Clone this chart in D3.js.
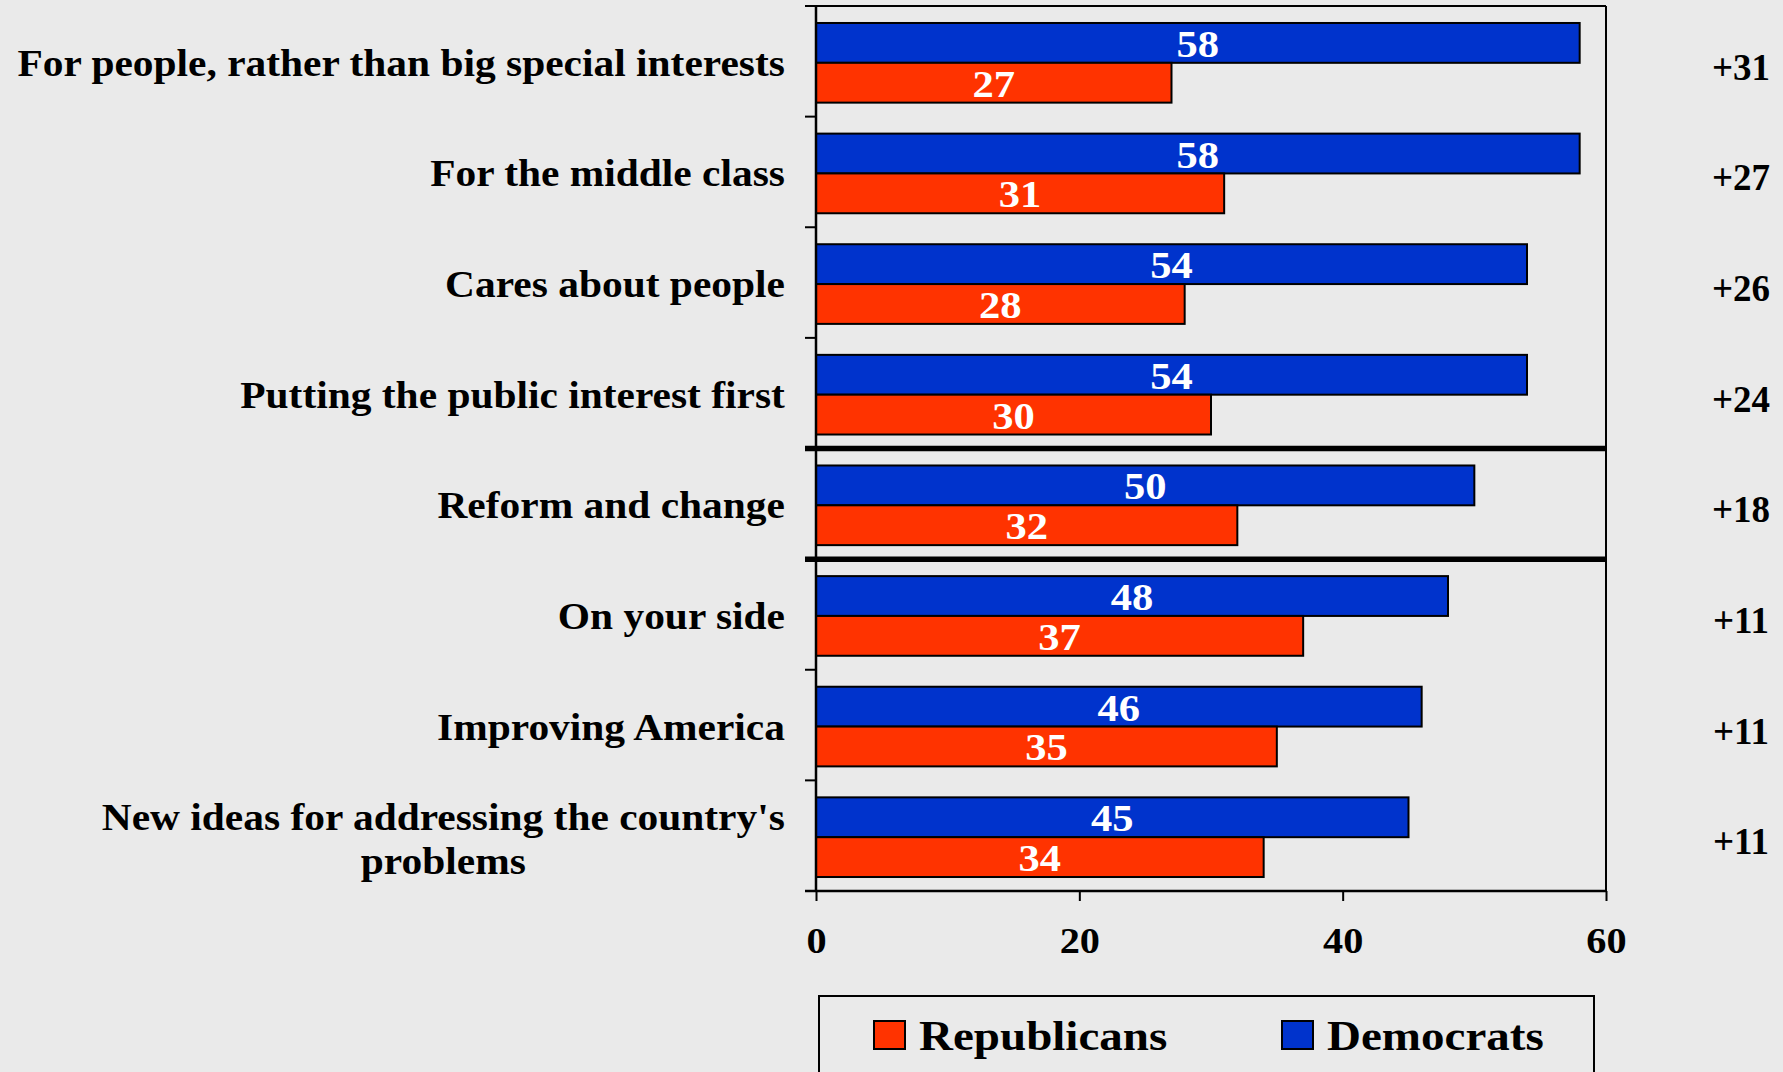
<!DOCTYPE html>
<html>
<head>
<meta charset="utf-8">
<script src="https://cdn.jsdelivr.net/npm/d3@7"></script>
<style>
  html, body { margin: 0; padding: 0; background: #EAEAEA; }
  svg { display: block; }
  text { font-family: "Liberation Serif", "Times New Roman", serif; font-weight: bold; }
</style>
</head>
<body>
<script>
const categories = [
  "For people, rather than big special interests",
  "For the middle class",
  "Cares about people",
  "Putting the public interest first",
  "Reform and change",
  "On your side",
  "Improving America",
  "New ideas for addressing the country's problems"
];
const democrats   = [58, 58, 54, 54, 50, 48, 46, 45];
const republicans = [27, 31, 28, 30, 32, 37, 35, 34];
const gapLabels   = ["+31", "+27", "+26", "+24", "+18", "+11", "+11", "+11"];
const xTicks      = [0, 20, 40, 60];
const seriesNames = ["Democrats", "Republicans"];
const legendOrder = ["Republicans", "Democrats"];
const separatorsAfter = [3, 4]; // thick lines below these category indices

const W = 1783, H = 1072;
const colors = { Democrats: "#0033CC", Republicans: "#FF3300" };
const SX = 1.12; // horizontal text stretch of the original

const svg = d3.select("body").append("svg").attr("width", W).attr("height", H);
svg.append("rect").attr("width", W).attr("height", H).attr("fill", "#EAEAEA");

const pL = 816, pR = 1606, pT = 6, pB = 891;

const x = d3.scaleLinear().domain([0, 60]).range([pL, pR]);
const y0 = d3.scaleBand().domain(categories).range([pT + 1.5, pB + 1.5])
  .paddingInner(0.28).paddingOuter(0.14);
const y1 = d3.scaleBand().domain(seriesNames).range([0, y0.bandwidth()]);
const step = y0.step();
const boundary = i => pT + step * i;

const rows = categories.map((c, i) => ({
  cat: c, i,
  values: [
    { key: "Democrats", v: democrats[i] },
    { key: "Republicans", v: republicans[i] }
  ]
}));

// plot frame: top and right borders
svg.append("line").attr("x1", pL).attr("x2", pR).attr("y1", pT).attr("y2", pT)
  .attr("stroke", "#000").attr("stroke-width", 2);
svg.append("line").attr("x1", pR).attr("x2", pR).attr("y1", pT).attr("y2", pB)
  .attr("stroke", "#000").attr("stroke-width", 2);

// bars
const g = svg.append("g");
const rowG = g.selectAll("g.row").data(rows).join("g")
  .attr("transform", d => `translate(0,${y0(d.cat)})`);
rowG.selectAll("rect").data(d => d.values).join("rect")
  .attr("x", x(0))
  .attr("y", d => y1(d.key))
  .attr("width", d => x(d.v) - x(0))
  .attr("height", y1.bandwidth())
  .attr("fill", d => colors[d.key])
  .attr("stroke", "#000").attr("stroke-width", 2);
rowG.selectAll("text").data(d => d.values).join("text")
  .attr("transform", d => `translate(${(x(0) + x(d.v)) / 2},${y1(d.key) + y1.bandwidth() / 2 + 14}) scale(${SX},1)`)
  .attr("text-anchor", "middle")
  .attr("font-size", 38)
  .attr("fill", "#fff")
  .text(d => d.v);

// separators
separatorsAfter.forEach(i => {
  svg.append("line").attr("x1", pL - 11).attr("x2", pR)
    .attr("y1", boundary(i + 1)).attr("y2", boundary(i + 1))
    .attr("stroke", "#000").attr("stroke-width", 5.5);
});

// left axis with boundary ticks
svg.append("line").attr("x1", pL).attr("x2", pL).attr("y1", pT).attr("y2", pB)
  .attr("stroke", "#000").attr("stroke-width", 2.5);
d3.range(categories.length + 1).forEach(i => {
  svg.append("line").attr("x1", pL - 11).attr("x2", pL)
    .attr("y1", boundary(i)).attr("y2", boundary(i))
    .attr("stroke", "#000").attr("stroke-width", 2);
});

// bottom axis
const xAxis = d3.axisBottom(x).tickValues(xTicks).tickSize(10).tickPadding(28);
const axG = svg.append("g").attr("transform", `translate(0,${pB})`).call(xAxis);
axG.select(".domain").attr("d", `M${pL - 11},0H${pR}`).attr("stroke", "#000").attr("stroke-width", 2.5);
axG.selectAll(".tick line").attr("stroke", "#000").attr("stroke-width", 2);
axG.selectAll(".tick text")
  .attr("font-size", 36)
  .attr("font-family", "Liberation Serif, Times New Roman, serif")
  .attr("font-weight", "bold")
  .attr("fill", "#000")
  .attr("dy", null)
  .attr("y", null)
  .attr("transform", `translate(0,62) scale(${SX},1)`);

// category labels (wrapped, block right-aligned, lines centered)
const labelRight = 785;
const maxW = 775;
const lab = svg.append("g");
rows.forEach(r => {
  const cy = y0(r.cat) + y0.bandwidth() / 2;
  const t = lab.append("text").attr("font-size", 37).attr("text-anchor", "start");
  const words = r.cat.split(" ");
  const lines = [];
  let cur = [];
  words.forEach(w => {
    const test = cur.concat(w).join(" ");
    t.text(test);
    if (t.node().getComputedTextLength() * SX > maxW && cur.length) {
      lines.push(cur.join(" "));
      cur = [w];
    } else cur.push(w);
  });
  lines.push(cur.join(" "));
  t.remove();
  const widths = lines.map(l => {
    const tt = lab.append("text").attr("font-size", 37).text(l);
    const w = tt.node().getComputedTextLength() * SX;
    tt.remove();
    return w;
  });
  const blockW = d3.max(widths);
  const centerX = labelRight - blockW / 2;
  const lh = 44;
  const firstBase = cy + 13 - (lines.length - 1) * 20;
  lines.forEach((l, k) => {
    lab.append("text").attr("font-size", 37).attr("text-anchor", "middle").attr("fill", "#000")
      .attr("transform", `translate(${centerX},${firstBase + k * lh}) scale(${SX},1)`)
      .text(l);
  });
});

// gap labels on the right
svg.append("g").selectAll("text").data(rows).join("text")
  .attr("x", 1741)
  .attr("y", d => y0(d.cat) + y0.bandwidth() / 2 + 17)
  .attr("text-anchor", "middle")
  .attr("font-size", 37)
  .attr("fill", "#000")
  .text(d => gapLabels[d.i]);

// legend
const lg = svg.append("g");
lg.append("rect").attr("x", 819).attr("y", 996).attr("width", 775).attr("height", 120)
  .attr("fill", "none").attr("stroke", "#000").attr("stroke-width", 2);
const legendX = { Republicans: 874, Democrats: 1282 };
legendOrder.forEach(k => {
  lg.append("rect").attr("x", legendX[k]).attr("y", 1021).attr("width", 31).attr("height", 28)
    .attr("fill", colors[k]).attr("stroke", "#000").attr("stroke-width", 2);
  lg.append("text").attr("font-size", 42).attr("fill", "#000")
    .attr("transform", `translate(${legendX[k] + 45},1050) scale(${SX},1)`)
    .text(k);
});
</script>
</body>
</html>
